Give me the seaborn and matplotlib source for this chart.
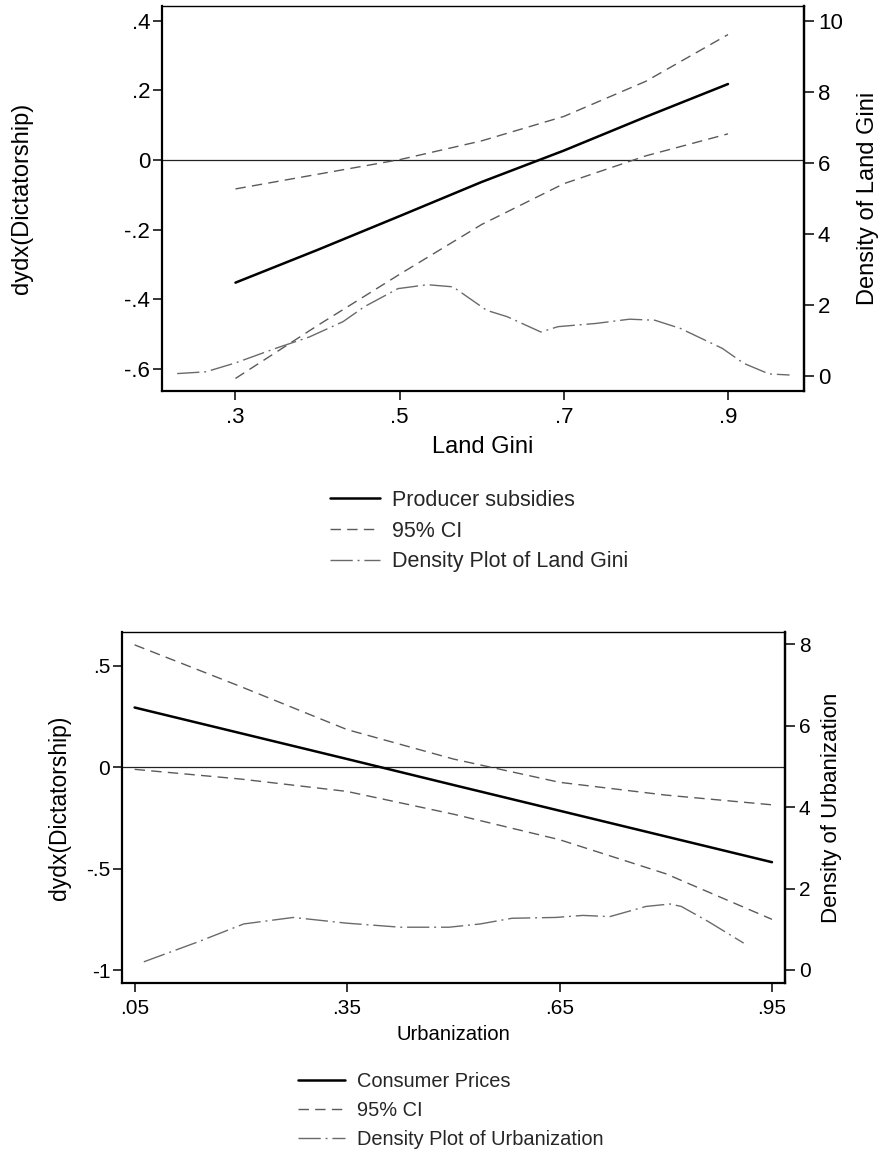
import matplotlib
matplotlib.use("Agg")
import matplotlib.pyplot as plt
import seaborn as sns
import numpy as np

# ---------------- data: top panel (Land Gini) ----------------
gini_x = [0.3, 0.4, 0.5, 0.6, 0.7, 0.8, 0.9]
producer_effect = [-0.352, -0.258, -0.161, -0.063, 0.027, 0.124, 0.218]
producer_ci_upper = [-0.083, -0.041, 0.001, 0.055, 0.125, 0.226, 0.360]
producer_ci_lower = [-0.627, -0.475, -0.328, -0.185, -0.068, 0.012, 0.075]

gini_density_x = [0.229, 0.264, 0.300, 0.349, 0.390, 0.431, 0.457, 0.498, 0.534,
                  0.565, 0.606, 0.631, 0.672, 0.693, 0.739, 0.780, 0.811, 0.842,
                  0.893, 0.919, 0.950, 0.975]
gini_density_y = [0.07, 0.12, 0.37, 0.78, 1.10, 1.53, 1.95, 2.46, 2.57,
                  2.51, 1.85, 1.67, 1.24, 1.39, 1.48, 1.60, 1.57, 1.34,
                  0.78, 0.36, 0.06, 0.03]

gini_ticks = [0.3, 0.5, 0.7, 0.9]
gini_ticklabels = [".3", ".5", ".7", ".9"]
top_left_ticks = [-0.6, -0.4, -0.2, 0.0, 0.2, 0.4]
top_left_ticklabels = ["-.6", "-.4", "-.2", "0", ".2", ".4"]
top_right_ticks = [0, 2, 4, 6, 8, 10]
top_right_ticklabels = ["0", "2", "4", "6", "8", "10"]

# ---------------- data: bottom panel (Urbanization) ----------------
urban_x = [0.05, 0.2, 0.35, 0.5, 0.65, 0.8, 0.95]
consumer_effect = [0.295, 0.168, 0.041, -0.087, -0.214, -0.341, -0.468]
consumer_ci_upper = [0.604, 0.398, 0.186, 0.041, -0.074, -0.137, -0.185]
consumer_ci_lower = [-0.010, -0.058, -0.119, -0.231, -0.357, -0.525, -0.750]

urban_density_x = [0.063, 0.141, 0.204, 0.274, 0.349, 0.425, 0.494, 0.538, 0.583,
                   0.645, 0.683, 0.721, 0.772, 0.806, 0.822, 0.860, 0.910]
urban_density_y = [0.20, 0.70, 1.13, 1.29, 1.15, 1.05, 1.05, 1.13, 1.27,
                   1.29, 1.34, 1.31, 1.56, 1.62, 1.56, 1.19, 0.66]

urban_ticks = [0.05, 0.35, 0.65, 0.95]
urban_ticklabels = [".05", ".35", ".65", ".95"]
bot_left_ticks = [-1.0, -0.5, 0.0, 0.5]
bot_left_ticklabels = ["-1", "-.5", "0", ".5"]
bot_right_ticks = [0, 2, 4, 6, 8]
bot_right_ticklabels = ["0", "2", "4", "6", "8"]

# ---------------- style ----------------
sns.set_theme(style="white")
plt.rcParams["font.family"] = ["Liberation Sans", "DejaVu Sans"]

W, H = 880, 1153
fig = plt.figure(figsize=(W / 100, H / 100), dpi=100)

CI_COLOR = "#5a5a5a"
DENS_COLOR = "#6a6a6a"
CI_DASH = (7.5, 4.5)
DENS_DASH = (16, 3.5, 1.4, 3.5)


def panel(rect, x, eff, up, lo, dx, dy, xlim, ylim, ylim_r,
          xt, xtl, lt, ltl, rt, rtl, xlabel, rlabel,
          tick_fs, title_fs, ylabel_x, rlabel_x, xlabel_y, rlabel_fs, ylabel_fs):
    ax = fig.add_axes(rect)
    axr = ax.twinx()

    ax.axhline(0, color="#222222", lw=0.9, zorder=1)
    sns.lineplot(x=x, y=eff, ax=ax, color="black", lw=1.8, estimator=None, sort=False)
    l_main = ax.get_lines()[-1]
    sns.lineplot(x=x, y=up, ax=ax, color=CI_COLOR, lw=1.0, estimator=None, sort=False)
    l_ci = ax.get_lines()[-1]
    l_ci.set_dashes(CI_DASH)
    sns.lineplot(x=x, y=lo, ax=ax, color=CI_COLOR, lw=1.0, estimator=None, sort=False)
    ax.get_lines()[-1].set_dashes(CI_DASH)

    sns.lineplot(x=dx, y=dy, ax=axr, color=DENS_COLOR, lw=1.0, estimator=None, sort=False)
    l_d = axr.get_lines()[-1]
    l_d.set_dashes(DENS_DASH)

    ax.set_xlim(*xlim)
    ax.set_ylim(*ylim)
    axr.set_ylim(*ylim_r)

    ax.set_xticks(xt)
    ax.set_xticklabels(xtl)
    ax.set_yticks(lt)
    ax.set_yticklabels(ltl)
    axr.set_yticks(rt)
    axr.set_yticklabels(rtl)

    ax.tick_params(axis="x", direction="out", length=6.5, width=1.1, pad=5,
                   labelsize=tick_fs, colors="black", bottom=True)
    ax.tick_params(axis="y", direction="out", length=6.5, width=1.1, pad=2,
                   labelsize=tick_fs, colors="black", left=True)
    axr.tick_params(axis="y", direction="out", length=7, width=1.1, pad=3,
                    labelsize=tick_fs, colors="black", right=True)

    for s in ["left", "bottom", "right"]:
        ax.spines[s].set_color("black")
        ax.spines[s].set_linewidth(1.6)
    ax.spines["top"].set_color("black")
    ax.spines["top"].set_linewidth(1.0)
    for s in ["left", "top", "bottom"]:
        axr.spines[s].set_visible(False)
    axr.spines["right"].set_color("black")
    axr.spines["right"].set_linewidth(1.6)

    ax.set_xlabel(xlabel, fontsize=title_fs, color="black", va="center")
    ax.xaxis.set_label_coords(0.5, xlabel_y)
    ax.set_ylabel("dydx(Dictatorship)", fontsize=ylabel_fs, color="black",
                  va="center", ha="center")
    ax.yaxis.set_label_coords(ylabel_x, 0.5)
    axr.set_ylabel(rlabel, fontsize=rlabel_fs, color="black", va="center",
                   ha="center", rotation=90)
    axr.yaxis.set_label_coords(rlabel_x, 0.5)
    return l_main, l_ci, l_d


# top panel: axes box 162..804 x 6..391 px
top_rect = [162 / W, 1 - 391 / H, 642 / W, 385 / H]
h1 = panel(top_rect, gini_x, producer_effect, producer_ci_upper, producer_ci_lower,
           gini_density_x, gini_density_y,
           (0.2105, 0.9926), (-0.663, 0.442), (-0.42, 10.41),
           gini_ticks, gini_ticklabels, top_left_ticks, top_left_ticklabels,
           top_right_ticks, top_right_ticklabels,
           "Land Gini", "Density of Land Gini",
           tick_fs=16, title_fs=17, ylabel_x=(22 - 162) / 642,
           rlabel_x=(868 - 162) / 642, xlabel_y=-(447 - 391) / 385,
           rlabel_fs=17, ylabel_fs=17)

# bottom panel: axes box 122..785 x 632..983 px
bot_rect = [122 / W, 1 - 983 / H, 663 / W, 351 / H]
h2 = panel(bot_rect, urban_x, consumer_effect, consumer_ci_upper, consumer_ci_lower,
           urban_density_x, urban_density_y,
           (0.0322, 0.9684), (-1.064, 0.6675), (-0.32, 8.30),
           urban_ticks, urban_ticklabels, bot_left_ticks, bot_left_ticklabels,
           bot_right_ticks, bot_right_ticklabels,
           "Urbanization", "Density of Urbanization",
           tick_fs=15, title_fs=14.6, ylabel_x=(60 - 122) / 663,
           rlabel_x=(831 - 122) / 663, xlabel_y=-(1035 - 983) / 351,
           rlabel_fs=16, ylabel_fs=16.5)

fig.legend(handles=list(h1),
           labels=["Producer subsidies", "95% CI", "Density Plot of Land Gini"],
           loc="upper left", bbox_to_anchor=(330 / W, 1 - 490 / H),
           frameon=False, fontsize=15.5, handlelength=2.3, handletextpad=0.6,
           labelspacing=0.45, borderpad=0, borderaxespad=0)

fig.legend(handles=list(h2),
           labels=["Consumer Prices", "95% CI", "Density Plot of Urbanization"],
           loc="upper left", bbox_to_anchor=(298 / W, 1 - 1072 / H),
           frameon=False, fontsize=14.4, handlelength=2.35, handletextpad=0.6,
           labelspacing=0.5, borderpad=0, borderaxespad=0)

fig.savefig("out.png", dpi=100, facecolor="white")
